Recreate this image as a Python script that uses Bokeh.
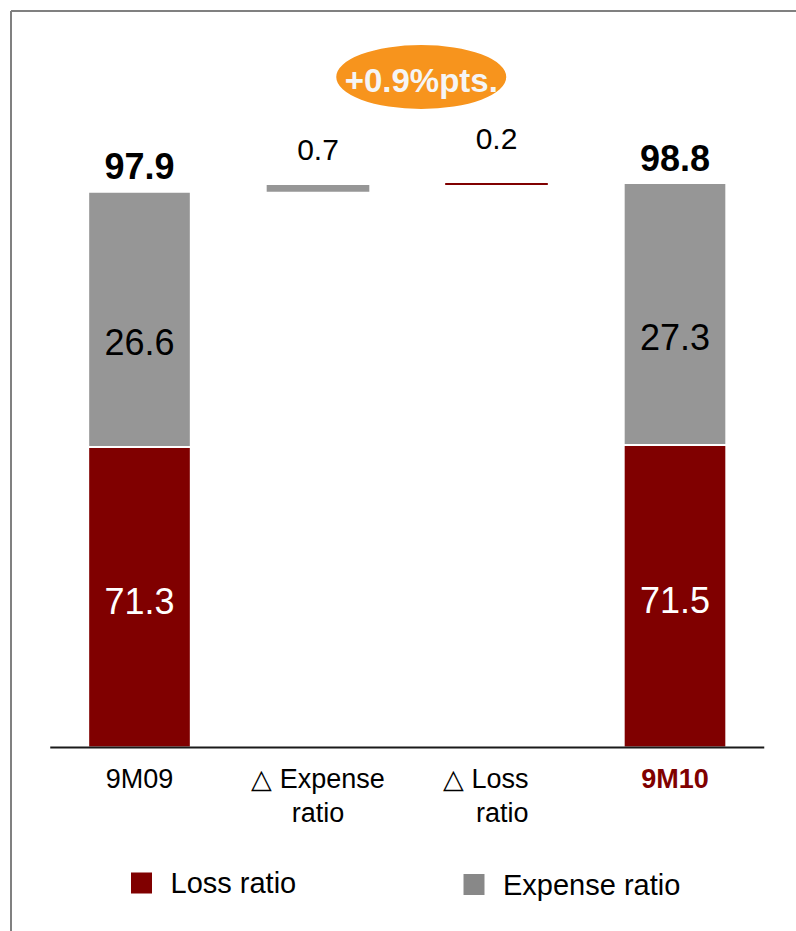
from bokeh.plotting import figure
from bokeh.models import Range1d
from bokeh.core.properties import value
from bokeh.embed import file_html
from bokeh.resources import INLINE

# ---------------- data ----------------
categories = ["9M09", "\u25b3 Expense\nratio", "\u25b3 Loss\nratio", "9M10"]
periods = ["9M09", "9M10"]
loss_ratio = [71.3, 71.5]
expense_ratio = [26.6, 27.3]
combined_ratio = [97.9, 98.8]
delta_expense = 0.7
delta_loss = 0.2
change_label = "+0.9%pts."
legend_labels = ["Loss ratio", "Expense ratio"]

# ---------------- layout / style ----------------
W, H = 796, 931
PX_X = 178.5          # px per category slot
PX_Y = 9.6            # px per ratio point
BASE = 40             # value axis starts at 40 (broken axis)
FIRST_CENTER_PX = 139
AXIS_PX = 747
FONT = value("Liberation Sans")
RED = "#800000"
GRAY = "#969696"
BAR_W = 0.575


def dx(px):
    return px / PX_X


def dy(px):
    return px / PX_Y


x_start = -FIRST_CENTER_PX / PX_X
x_end = (W - FIRST_CENTER_PX) / PX_X
y_end = BASE + AXIS_PX / PX_Y
y_start = BASE - (H - AXIS_PX) / PX_Y

p = figure(width=W, height=H, output_backend="svg", toolbar_location=None,
           x_range=Range1d(x_start, x_end), y_range=Range1d(y_start, y_end),
           x_axis_location=None, y_axis_location=None, min_border=0)
p.grid.visible = False
p.outline_line_color = None
p.background_fill_color = "white"
p.border_fill_color = "white"

# positions of columns
xi = list(range(len(categories)))
x_periods = [xi[0], xi[3]]

# frame border (left and top)
bx = x_start + dx(10.5)
byt = y_end - dy(10.5)
p.segment(x0=[bx, bx], y0=[y_start, byt], x1=[bx, x_end], y1=[byt, byt],
          line_color="#808080", line_width=2)

# stacked bars
p.vbar(x=x_periods, width=BAR_W, bottom=BASE, top=loss_ratio,
       fill_color=RED, line_color="white", line_width=2)
p.vbar(x=x_periods, width=BAR_W, bottom=loss_ratio, top=combined_ratio,
       fill_color=GRAY, line_color="white", line_width=2)

# waterfall deltas
exp_bottom = combined_ratio[0]
exp_top = exp_bottom + delta_expense
loss_bottom = exp_top
loss_top = loss_bottom + delta_loss
p.vbar(x=[xi[1]], width=BAR_W, bottom=[exp_bottom], top=[exp_top],
       fill_color=GRAY, line_color=None)
p.vbar(x=[xi[2]], width=BAR_W, bottom=[loss_bottom], top=[loss_top],
       fill_color=RED, line_color=None)

# axis line
p.segment(x0=[-0.5], y0=[BASE], x1=[len(categories) - 0.5], y1=[BASE],
          line_color="#1a1a1a", line_width=2)

# totals
p.text(x=x_periods, y=[v + dy(25.5) for v in combined_ratio],
       text=[f"{v:.1f}" for v in combined_ratio], text_font=FONT,
       text_font_size="36px", text_font_style="bold", text_align="center",
       text_baseline="middle", text_color="black")

# segment labels
p.text(x=x_periods, y=[(a + b) / 2 - dy(23) for a, b in zip(loss_ratio, combined_ratio)],
       text=[f"{v:.1f}" for v in expense_ratio], text_font=FONT,
       text_font_size="36px", text_align="center", text_baseline="middle",
       text_color="black")
p.text(x=x_periods, y=[(BASE + v) / 2 - dy(4) for v in loss_ratio],
       text=[f"{v:.1f}" for v in loss_ratio], text_font=FONT,
       text_font_size="36px", text_align="center", text_baseline="middle",
       text_color="white")

# delta labels
p.text(x=[xi[1], xi[2]], y=[exp_top + dy(35), loss_top + dy(44)],
       text=[f"{delta_expense:.1f}", f"{delta_loss:.1f}"], text_font=FONT,
       text_font_size="30px", text_align="center", text_baseline="middle",
       text_color="black")

# change bubble
ex = 1.5 + dx(14)
ey = BASE + dy(AXIS_PX - 76.5)
p.ellipse(x=[ex], y=[ey], width=dx(170), height=dy(64),
          fill_color="#F7941D", line_color=None)
p.text(x=[ex], y=[ey - dy(3)], text=[change_label], text_font=FONT,
       text_font_size="33px", text_font_style="bold", text_align="center",
       text_baseline="middle", text_color="#F5F5F5")

# category labels
cat_y = BASE - dy(16)
p.text(x=xi[:2], y=[cat_y] * 2, text=categories[:2], text_font=FONT,
       text_font_size="27px", text_align="center", text_baseline="top",
       text_color="black", text_line_height=1.15)
p.text(x=[xi[2] + dx(32)], y=[cat_y], text=[categories[2]], text_font=FONT,
       text_font_size="27px", text_align="right", text_baseline="top",
       text_color="black", text_line_height=1.15)
p.text(x=[xi[3]], y=[cat_y], text=[categories[3]], text_font=FONT,
       text_font_size="27px", text_font_style="bold", text_align="center",
       text_baseline="top", text_color=RED)

# legend
lx = [dx(2), dx(334.5)]
ly = [BASE - dy(135.5), BASE - dy(137)]
p.scatter(x=lx, y=ly, marker="square", size=21,
          fill_color=[RED, "#888888"], line_color=None)
p.text(x=[v + dx(29) for v in lx], y=ly,
       text=legend_labels, text_font=FONT, text_font_size="29px",
       text_align="left", text_baseline="middle", text_color="black")

open("out.html", "w").write(file_html(p, INLINE))
